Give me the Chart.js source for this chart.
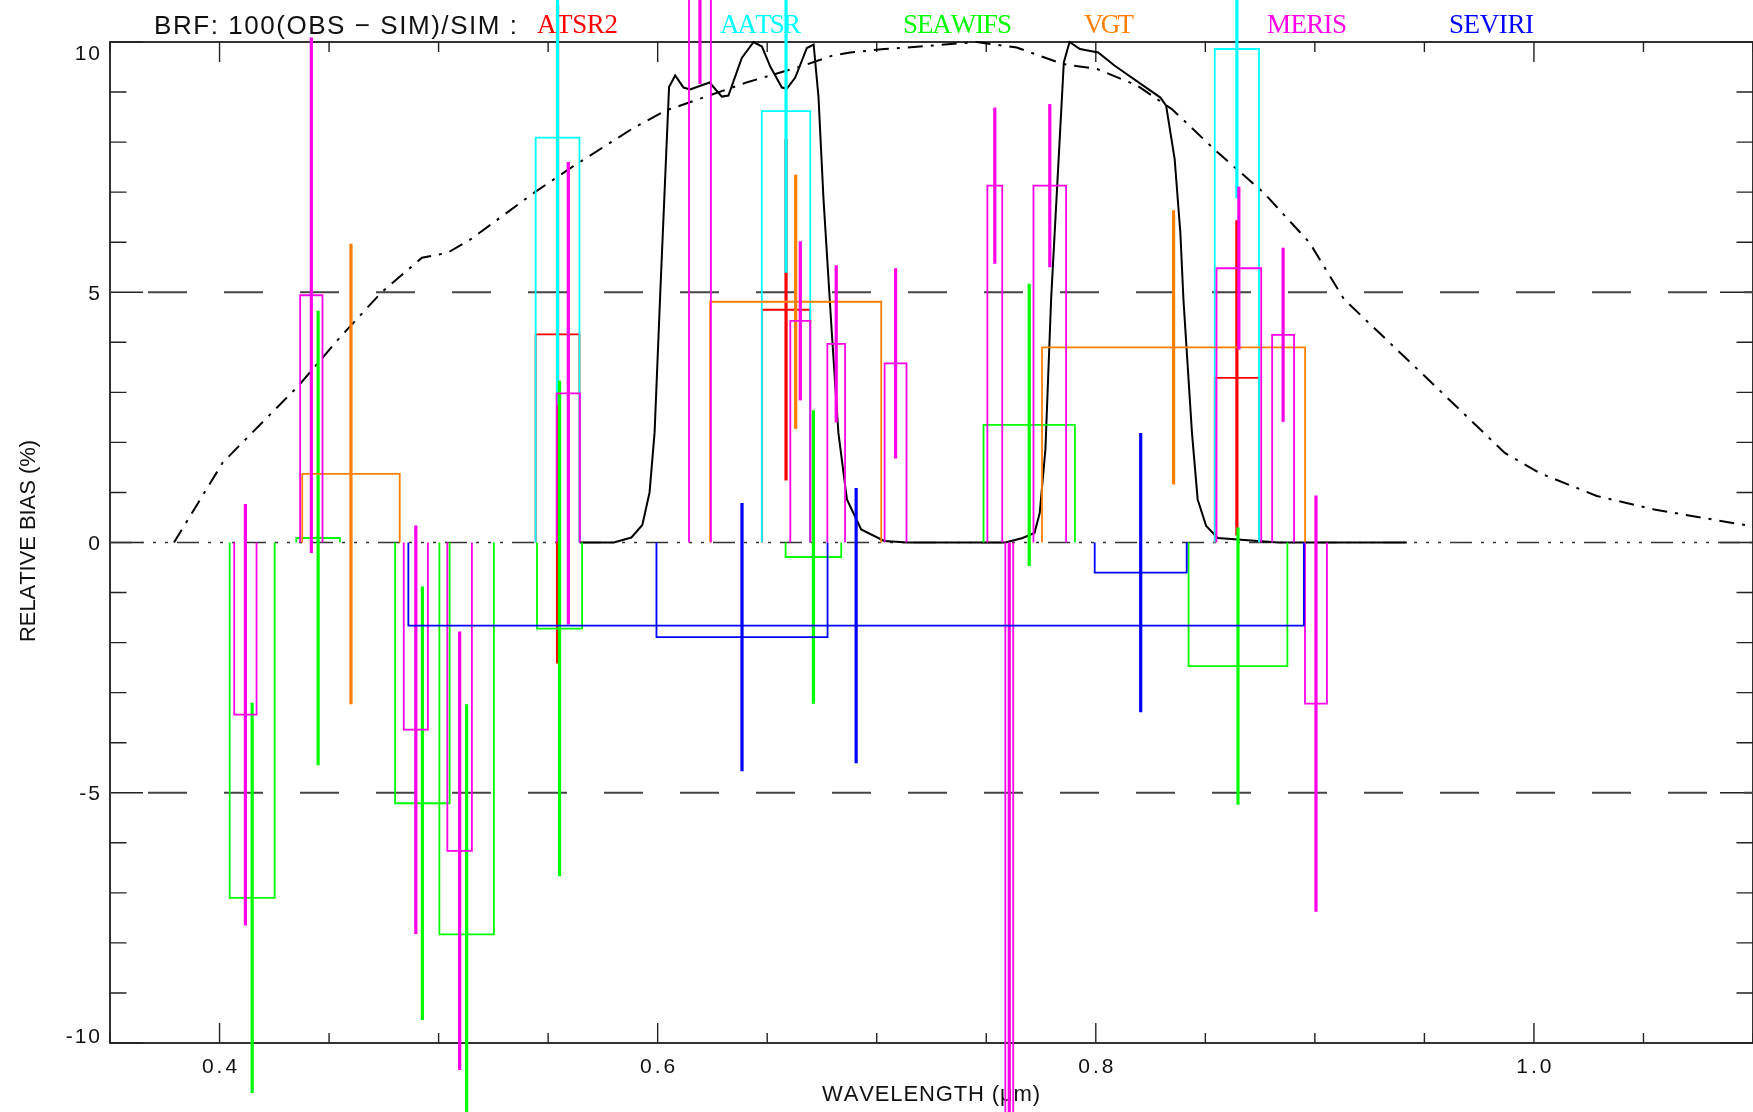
<!DOCTYPE html>
<html>
<head>
<meta charset="utf-8">
<script src="https://cdn.jsdelivr.net/npm/chart.js@4.4.1/dist/chart.umd.min.js"></script>
<style>
  html, body { margin: 0; padding: 0; background: #fff; }
  #wrap { width: 1753px; height: 1112px; }
</style>
</head>
<body>
<div id="wrap"><canvas id="biasChart" width="1753" height="1112"></canvas></div>
<script>
// legend order, which is also the drawing order
const instruments = ['ATSR2', 'AATSR', 'SEAWIFS', 'VGT', 'MERIS', 'SEVIRI'];
const instColors  = ['#ff0000', '#00ffff', '#00ff00', '#ff8000', '#ff00e8', '#0000ff'];

// band centre (um), band width (um), bias (%), one sigma (%)
const atsr2Band  = [0.5543, 0.6586, 0.8644];
const atsr2Width = [0.0200, 0.0221, 0.0202];
const atsr2Bias  = [4.16, 4.65, 3.29];
const atsr2Sigma = [6.58, 3.41, 3.15];

const aatsrBand  = [0.5543, 0.6586, 0.8644];
const aatsrWidth = [0.0200, 0.0221, 0.0202];
const aatsrBias  = [8.09, 8.62, 9.86];
const aatsrSigma = [5.35, 3.23, 2.98];

const seawifsBand  = [0.4149, 0.4450, 0.4926, 0.5128, 0.5552, 0.6711, 0.7696, 0.8649];
const seawifsWidth = [0.0205, 0.0199, 0.0249, 0.0249, 0.0206, 0.0254, 0.0417, 0.0451];
const seawifsBias  = [-7.10, 0.09, -5.21, -7.83, -1.72, -0.29, 2.35, -2.47];
const seawifsSigma = [3.90, 4.54, 4.33, 4.60, 4.95, 2.93, 2.82, 2.77];

const vgtBand  = [0.4600, 0.6630, 0.8355];
const vgtWidth = [0.0445, 0.0781, 0.1201];
const vgtBias  = [1.37, 4.81, 3.90];
const vgtSigma = [4.60, 2.54, 2.74];

const merisBand  = [0.4118, 0.4419, 0.4896, 0.5096, 0.5592, 0.6193, 0.6651, 0.6815, 0.7086, 0.7539, 0.7605, 0.7790, 0.8653, 0.8855, 0.9005];
const merisWidth = [0.0102, 0.0102, 0.0110, 0.0112, 0.0106, 0.0100, 0.0091, 0.0081, 0.0100, 0.0068, 0.0036, 0.0149, 0.0204, 0.0100, 0.0100];
const merisBias  = [-3.44, 4.94, -3.74, -6.16, 2.98, 13.80, 4.43, 3.97, 3.58, 7.13, -20.0, 7.13, 5.48, 4.15, -3.22];
const merisSigma = [4.21, 5.15, 4.08, 4.38, 4.62, 4.64, 1.59, 1.57, 1.90, 1.56, 20.0, 1.63, 1.63, 1.74, 4.16];

const seviriBand  = [0.6385, 0.8205, 0.6906];
const seviriWidth = [0.0781, 0.0420, 0.4088];
const seviriBias  = [-1.89, -0.60, -1.66];
const seviriSigma = [2.68, 2.79, 2.75];

// solid black response curve
const solidWave  = [0.5646, 0.5800, 0.5880, 0.5930, 0.5963, 0.5986, 0.6012, 0.6052, 0.6080, 0.6118, 0.6148, 0.6237, 0.6293, 0.6323,
                    0.6384, 0.6438, 0.6476, 0.6514, 0.6567, 0.6590, 0.6628, 0.6681, 0.6712, 0.6734, 0.6757, 0.6795, 0.6825, 0.6864,
                    0.6929, 0.7034, 0.7140, 0.7587, 0.7666, 0.7720, 0.7744, 0.7770, 0.7796, 0.7854, 0.7880, 0.7928, 0.8011, 0.8085,
                    0.8295, 0.8321, 0.8360, 0.8386, 0.8400, 0.8439, 0.8465, 0.8504, 0.8557, 0.8832, 0.9420];
const solidLevel = [0.00, 0.00, 0.10, 0.35, 1.00, 2.20, 5.00, 9.10, 9.33, 9.09, 9.05, 9.19, 8.91, 8.93,
                    9.68, 10.00, 9.91, 9.51, 9.09, 9.07, 9.29, 9.88, 9.95, 8.91, 6.86, 4.19, 2.19, 0.86,
                    0.26, 0.03, 0.00, 0.00, 0.09, 0.19, 0.59, 1.86, 4.86, 9.59, 10.00, 9.86, 9.79, 9.53,
                    8.89, 8.73, 7.66, 6.19, 4.86, 2.19, 0.86, 0.33, 0.09, 0.00, 0.00];

// dash-dot curve
const dashWave  = [0.3792, 0.4015, 0.4360, 0.4550, 0.4740, 0.4924, 0.5042, 0.5147, 0.5436, 0.5619, 0.5881, 0.6037, 0.6143,
                   0.6405, 0.6667, 0.6798, 0.6879, 0.7034, 0.7141, 0.7456, 0.7639, 0.7849, 0.8006, 0.8189, 0.8347, 0.8557,
                   0.8766, 0.8976, 0.9133, 0.9500, 0.9867, 1.0025, 1.0287, 1.0549, 1.1000];
const dashLevel = [0.00, 1.60, 3.13, 4.10, 5.00, 5.69, 5.79, 6.06, 6.99, 7.53, 8.26, 8.63, 8.79,
                   9.19, 9.53, 9.73, 9.79, 9.86, 9.89, 10.00, 9.89, 9.56, 9.46, 9.13, 8.66, 7.79,
                   6.99, 5.99, 4.86, 3.33, 1.79, 1.39, 0.93, 0.66, 0.32];

const xTickValues = [0.4, 0.6, 0.8, 1.0];
const xTickLabels = ['0.4', '0.6', '0.8', '1.0'];
const yTickValues = [-10, -5, 0, 5, 10];
const yTickLabels = ['-10', '-5', '0', '5', '10'];

const bandSets = [
  [atsr2Band, atsr2Width, atsr2Bias, atsr2Sigma],
  [aatsrBand, aatsrWidth, aatsrBias, aatsrSigma],
  [seawifsBand, seawifsWidth, seawifsBias, seawifsSigma],
  [vgtBand, vgtWidth, vgtBias, vgtSigma],
  [merisBand, merisWidth, merisBias, merisSigma],
  [seviriBand, seviriWidth, seviriBias, seviriSigma]
];

// datasets in drawing order (first one at the bottom)
const drawList = [];
function addLine(points, color, width, dash, offset) {
  drawList.push({
    data: points,
    showLine: true,
    borderColor: color,
    borderWidth: width,
    borderDash: dash || [],
    borderDashOffset: offset || 0,
    pointRadius: 0,
    tension: 0,
    clip: false
  });
}

addLine([{x: 0.35, y: 5}, {x: 1.1, y: 5}], '#444', 2, [39, 37], 38);
addLine([{x: 0.35, y: -5}, {x: 1.1, y: -5}], '#444', 2, [39, 37], 38);
addLine([{x: 0.35, y: 0}, {x: 1.1, y: 0}], '#333', 1.5, [22, 9, 3, 9, 3, 9, 3, 9]);
addLine(dashWave.map((w, i) => ({x: w, y: dashLevel[i]})), '#000', 2, [15, 8, 3, 8]);
addLine(solidWave.map((w, i) => ({x: w, y: solidLevel[i]})), '#000', 2);

bandSets.forEach(([band, width, bias, sigma], k) => {
  const col = instColors[k];
  band.forEach((c, i) => {
    const lo = c - width[i] / 2, hi = c + width[i] / 2;
    addLine([{x: lo, y: 0}, {x: lo, y: bias[i]}, {x: hi, y: bias[i]}, {x: hi, y: 0}], col, 1.8);
    addLine([{x: c, y: bias[i] - sigma[i]}, {x: c, y: bias[i] + sigma[i]}], col, 3.2);
  });
});

const datasets = drawList.map((d, i) => Object.assign(d, {order: drawList.length - i}));

function isMultiple(v, step) {
  return Math.abs(v / step - Math.round(v / step)) < 1e-6;
}

// writes text char by char so it spans a given width
function fitText(ctx, text, x, y, width) {
  const chars = Array.from(text);
  const ws = chars.map(c => ctx.measureText(c).width);
  const natural = ws.reduce((a, b) => a + b, 0);
  const gap = chars.length > 1 ? (width - natural) / (chars.length - 1) : 0;
  let cx = x;
  chars.forEach((c, i) => { ctx.fillText(c, cx, y); cx += ws[i] + gap; });
}

function spacedWidth(ctx, text, gap) {
  const chars = Array.from(text);
  return chars.reduce((a, c) => a + ctx.measureText(c).width, 0) + gap * (chars.length - 1);
}

const framePlugin = {
  id: 'frame',
  beforeDraw(chart) {
    const ctx = chart.ctx;
    ctx.save();
    ctx.fillStyle = '#fff';
    ctx.fillRect(0, 0, chart.width, chart.height);
    ctx.restore();
  },
  beforeDatasetsDraw(chart) {
    const {ctx, chartArea: a, scales: {x, y}} = chart;
    ctx.save();

    // box
    ctx.strokeStyle = '#000';
    ctx.lineWidth = 1.6;
    ctx.strokeRect(a.left, a.top, a.right - a.left, a.bottom - a.top);

    // inward ticks on all four sides
    ctx.strokeStyle = '#222';
    ctx.lineWidth = 1.4;
    ctx.beginPath();
    x.ticks.forEach(t => {
      const px = x.getPixelForValue(t.value);
      const len = isMultiple(t.value, 0.2) ? 20 : 10;
      ctx.moveTo(px, a.bottom); ctx.lineTo(px, a.bottom - len);
      ctx.moveTo(px, a.top); ctx.lineTo(px, a.top + len);
    });
    y.ticks.forEach(t => {
      const py = y.getPixelForValue(t.value);
      const len = isMultiple(t.value, 5) ? 33 : 16.5;
      ctx.moveTo(a.left, py); ctx.lineTo(a.left + len, py);
      ctx.moveTo(a.right, py); ctx.lineTo(a.right - len, py);
    });
    ctx.stroke();

    // tick labels
    ctx.fillStyle = '#111';
    ctx.textAlign = 'left';
    ctx.textBaseline = 'alphabetic';
    ctx.font = '21px "Liberation Sans", Arial, sans-serif';
    xTickValues.forEach((v, i) => {
      const w = spacedWidth(ctx, xTickLabels[i], 3);
      fitText(ctx, xTickLabels[i], x.getPixelForValue(v) - w / 2, 1073, w);
    });
    yTickValues.forEach((v, i) => {
      const mid = Math.min(Math.max(y.getPixelForValue(v), a.top + 10.5), a.bottom - 7.5);
      const w = spacedWidth(ctx, yTickLabels[i], 2);
      fitText(ctx, yTickLabels[i], 100 - w, mid + 7.5, w);
    });

    // axis titles
    ctx.font = '22px "Liberation Sans", Arial, sans-serif';
    fitText(ctx, 'WAVELENGTH (\u03bcm)', 822, 1101, 218);
    ctx.save();
    ctx.translate(35, 642);
    ctx.rotate(-Math.PI / 2);
    fitText(ctx, 'RELATIVE BIAS (%)', 0, 0, 202);
    ctx.restore();

    // title line with coloured instrument names
    ctx.font = '26px "Liberation Sans", Arial, sans-serif';
    fitText(ctx, 'BRF: 100(OBS \u2212 SIM)/SIM :', 154, 33.5, 363);
    const nameX = [537, 720, 903, 1084, 1267, 1449];
    const nameW = [81, 81, 109, 50, 80, 85];
    ctx.font = '27px "Liberation Serif", "DejaVu Serif", serif';
    instruments.forEach((name, i) => {
      ctx.fillStyle = instColors[i];
      fitText(ctx, name, nameX[i], 33, nameW[i]);
    });

    ctx.restore();
  }
};

new Chart(document.getElementById('biasChart'), {
  type: 'scatter',
  data: { datasets: datasets },
  options: {
    responsive: false,
    animation: false,
    devicePixelRatio: 1,
    layout: { padding: { top: 42, right: 0, bottom: 0, left: 0 } },
    plugins: { legend: { display: false }, tooltip: { enabled: false } },
    scales: {
      x: {
        type: 'linear', min: 0.35, max: 1.1,
        ticks: { display: false, stepSize: 0.05 },
        grid: { display: false }, border: { display: false },
        afterFit: s => { s.height = 69; }
      },
      y: {
        type: 'linear', min: -10, max: 10,
        ticks: { display: false, stepSize: 1 },
        grid: { display: false }, border: { display: false },
        afterFit: s => { s.width = 110; }
      }
    }
  },
  plugins: [framePlugin]
});
</script>
</body>
</html>
